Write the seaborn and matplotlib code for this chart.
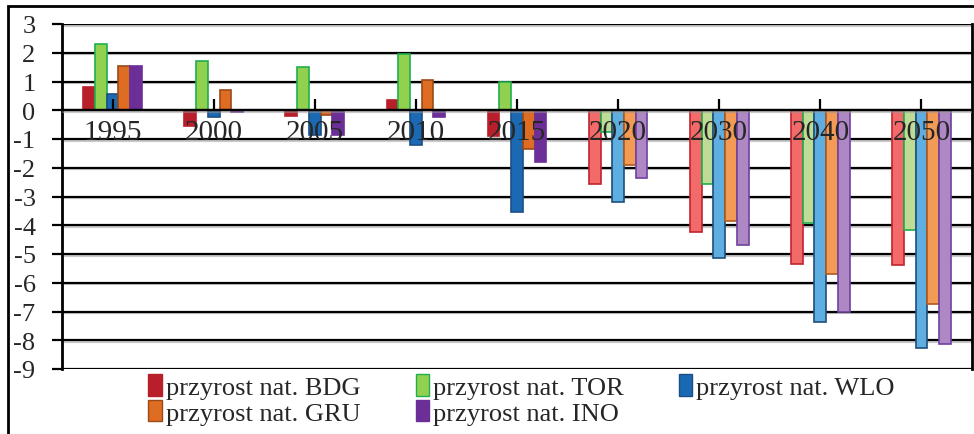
import numpy as np
import pandas as pd
import matplotlib
matplotlib.use("Agg")
import matplotlib.pyplot as plt
import matplotlib.patheffects as pe
from matplotlib.patches import Rectangle, Patch
import seaborn as sns

years = ["1995", "2000", "2005", "2010", "2015", "2020", "2030", "2040", "2050"]
series = ["przyrost nat. BDG", "przyrost nat. TOR", "przyrost nat. WLO",
          "przyrost nat. GRU", "przyrost nat. INO"]
bdg = [0.81, -0.54, -0.20, 0.36, -0.90, -2.57, -4.25, -5.34, -5.38]
tor = [2.29, 1.73, 1.49, 1.94, 1.00, -0.74, -2.57, -3.93, -4.18]
wlo = [0.58, -0.23, -0.85, -1.21, -3.53, -3.20, -5.13, -7.38, -8.27]
gru = [1.53, 0.69, -0.15, 1.04, -1.35, -1.89, -3.85, -5.70, -6.74]
ino = [1.53, -0.07, -0.87, -0.24, -1.79, -2.36, -4.69, -7.01, -8.13]
n_hist = 5  # first five years are historical, rest forecast

dark_fc = ["#B81F2B", "#92D050", "#1B69B3", "#DE6C22", "#6C2F98"]
dark_ec = ["#B81F2B", "#1FAF4F", "#1A4F86", "#9A4A1A", "#6C2F98"]
light_fc = ["#F26A6A", "#BEDC95", "#5EAEE2", "#F39A55", "#AE88C4"]
light_ec = ["#C0242D", "#1FAF4F", "#1F4E7A", "#B05A20", "#7040A0"]

vals = [bdg, tor, wlo, gru, ino]
df = pd.DataFrame({
    "year": np.tile(years, len(series)),
    "series": np.repeat(series, len(years)),
    "value": np.concatenate(vals),
})

sns.set_style("white")
plt.rcParams["font.family"] = ["Liberation Serif", "DejaVu Serif"]

fig = plt.figure(figsize=(9.74, 4.35), dpi=100)
ax = fig.add_axes([62 / 974, 1 - 370 / 435, 910 / 974, 345 / 435])

sns.barplot(data=df, x="year", y="value", hue="series", order=years,
            hue_order=series, palette=dark_fc, width=0.58, ax=ax,
            legend=False, errorbar=None, saturation=1)

for si, cont in enumerate(ax.containers):
    for yi, bar in enumerate(cont):
        if yi < n_hist:
            bar.set_facecolor(dark_fc[si])
            bar.set_edgecolor(dark_ec[si])
        else:
            bar.set_facecolor(light_fc[si])
            bar.set_edgecolor(light_ec[si])
        bar.set_linewidth(1.2)
        bar.set_zorder(3)

ax.set_ylim(-9, 3)
ax.set_xlim(-0.5, len(years) - 0.5)
ax.set_yticks(range(-9, 4))
ax.set_yticklabels([str(v) for v in range(-9, 4)])

for v in range(-9, 4):
    ax.axhline(v, color="black", lw=1.6, zorder=2 if v != 0 else 4,
               path_effects=[pe.SimpleLineShadow(offset=(0, -1.2), shadow_color="#999999", alpha=0.5),
                             pe.Normal()])

for s in ["top", "bottom"]:
    ax.spines[s].set_visible(False)
ax.spines["left"].set_color("black")
ax.spines["left"].set_linewidth(2.0)
ax.spines["right"].set_color("black")
ax.spines["right"].set_linewidth(2.0)
ax.spines["bottom"].set_position(("data", 0))
ax.spines["bottom"].set_visible(True)
ax.spines["bottom"].set_color("black")
ax.spines["bottom"].set_linewidth(1.6)
ax.spines["bottom"].set_zorder(4)

ax.tick_params(axis="y", direction="out", length=7, width=1.6, color="black",
               labelsize=19, pad=12, left=True)
ax.tick_params(axis="x", direction="in", length=8, width=1.6, color="black",
               labelsize=21, pad=6, bottom=True)
ax.xaxis.set_zorder(6)
ax.set_xlabel("")
ax.set_ylabel("")
ax.grid(False)

# legend (row-major ordering for 3 columns)
order = [0, 3, 1, 4, 2]
handles = [Patch(facecolor=dark_fc[i], edgecolor=dark_ec[i], linewidth=1.0) for i in order]
labels = [series[i] for i in order]
fig.legend(handles, labels, loc="upper left", bbox_to_anchor=(130 / 974, 1 - 357 / 435),
           ncol=3, frameon=False, fontsize=19, handlelength=0.5, handleheight=0.85,
           handletextpad=0.15, columnspacing=2.1, labelspacing=0.05, borderpad=0.2)

# figure border
fig.patches.append(Rectangle((8 / 974, -0.05), 1.2, 1 - 7 / 435 + 0.05,
                             transform=fig.transFigure, fill=False,
                             edgecolor="black", linewidth=2.0))

fig.savefig("out.png", dpi=100)
